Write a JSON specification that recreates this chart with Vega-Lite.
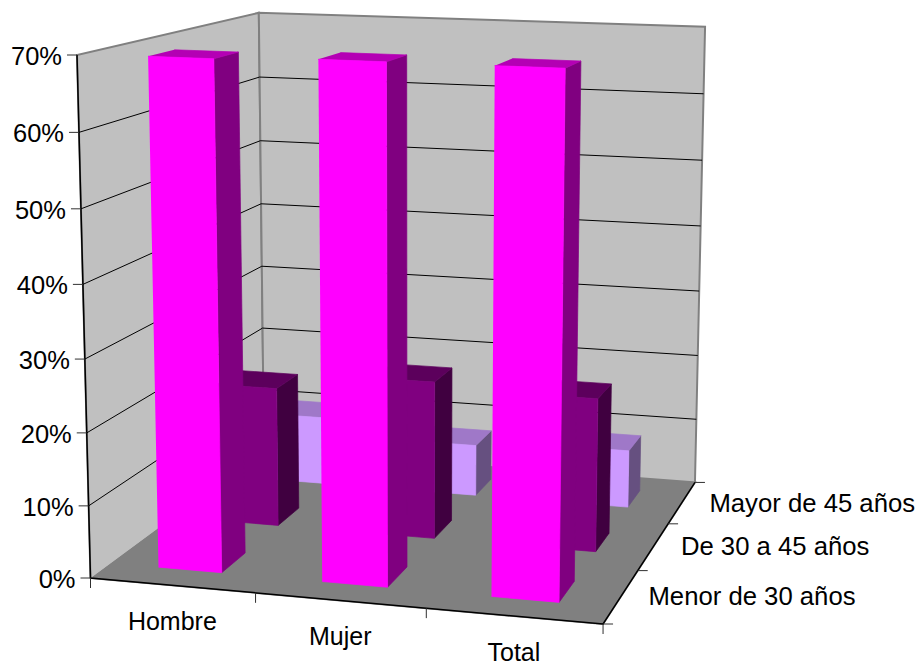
{"$schema":"https://vega.github.io/schema/vega-lite/v6.json","width":918,"height":662,"padding":0,"autosize":{"type":"none"},"background":"white","config":{"view":{"stroke":null}},
"resolve":{"scale":{"fill":"independent","stroke":"independent"}},
"datasets":{
"bars":[
{"series":"Mayor de 45 años","category":"Hombre","value":10.3},{"series":"Mayor de 45 años","category":"Mujer","value":7.7},{"series":"Mayor de 45 años","category":"Total","value":8.6},
{"series":"De 30 a 45 años","category":"Hombre","value":20.2},{"series":"De 30 a 45 años","category":"Mujer","value":22.7},{"series":"De 30 a 45 años","category":"Total","value":21.9},
{"series":"Menor de 30 años","category":"Hombre","value":69.4},{"series":"Menor de 30 años","category":"Mujer","value":69.8},{"series":"Menor de 30 años","category":"Total","value":69.8}],
"ticks":[{"tick":0},{"tick":10},{"tick":20},{"tick":30},{"tick":40},{"tick":50},{"tick":60},{"tick":70}],
"cats":[{"category":"Hombre"},{"category":"Mujer"},{"category":"Total"}],
"series":[{"series":"Menor de 30 años"},{"series":"De 30 a 45 años"},{"series":"Mayor de 45 años"}],
"bounds":[{"k":0},{"k":1},{"k":2},{"k":3}],
"panes":[{"pane":"left"},{"pane":"back"},{"pane":"floor"}]
},
"encoding":{"x":{"field":"px","type":"quantitative","scale":{"domain":[0,918],"nice":false,"zero":false},"axis":null},"y":{"field":"py","type":"quantitative","scale":{"domain":[0,662],"reverse":true,"nice":false,"zero":false},"axis":null}},
"layer":[
{"data":{"name":"panes"},"transform":[
{"calculate":"[0,1,2,3]","as":"n"},{"flatten":["n"]},
{"calculate":"({left:[0,0,0,0],back:[0,0,1,1],floor:[0,1,1,0]})[datum.pane][datum.n]","as":"u"},
{"calculate":"({left:[0,1,1,0],back:[0,1,1,0],floor:[0,0,0,0]})[datum.pane][datum.n]","as":"v"},
{"calculate":"({left:[0,0,1,1],back:[1,1,1,1],floor:[0,0,1,1]})[datum.pane][datum.n]","as":"w"},
{"calculate":"(90.5+datum.u*482.4-datum.v*16.58+datum.w*226.3)/(1-0.05*datum.u-0.04*datum.v+0.2*datum.w)","as":"px"},
{"calculate":"(578+datum.u*14.8-datum.v*525.2-datum.w*38)/(1-0.05*datum.u-0.04*datum.v+0.2*datum.w)","as":"py"}],
"mark":{"type":"line","strokeWidth":2,"strokeJoin":"miter"},
"encoding":{"order":{"field":"n"},"detail":{"field":"pane"},
"fill":{"field":"pane","type":"nominal","scale":{"domain":["left","back","floor"],"range":["#C0C0C0","#C0C0C0","#808080"]},"legend":null},
"stroke":{"value":"#808080"}}},
{"data":{"name":"ticks"},"transform":[{"filter":"datum.tick>=10&&datum.tick<=60"},
{"calculate":"[0,1,2]","as":"n"},{"flatten":["n"]},
{"calculate":"[0,0,1][datum.n]","as":"u"},{"calculate":"datum.tick/70","as":"v"},{"calculate":"[0,1,1][datum.n]","as":"w"},
{"calculate":"(90.5+datum.u*482.4-datum.v*16.58+datum.w*226.3)/(1-0.05*datum.u-0.04*datum.v+0.2*datum.w)","as":"px"},
{"calculate":"(578+datum.u*14.8-datum.v*525.2-datum.w*38)/(1-0.05*datum.u-0.04*datum.v+0.2*datum.w)","as":"py"}],
"mark":{"type":"line","stroke":"#000000","strokeWidth":1},
"encoding":{"order":{"field":"n"},"detail":{"field":"tick"}}},
{"data":{"name":"bounds"},"transform":[{"calculate":"[0,1,2,3]","as":"n"},{"flatten":["n"]},{"filter":"datum.k==0"},
{"calculate":"[0,0,1,1][datum.n]","as":"u"},{"calculate":"[1,0,0,0][datum.n]","as":"v"},{"calculate":"[0,0,0,1][datum.n]","as":"w"},
{"calculate":"(90.5+datum.u*482.4-datum.v*16.58+datum.w*226.3)/(1-0.05*datum.u-0.04*datum.v+0.2*datum.w)","as":"px"},
{"calculate":"(578+datum.u*14.8-datum.v*525.2-datum.w*38)/(1-0.05*datum.u-0.04*datum.v+0.2*datum.w)","as":"py"}],
"mark":{"type":"line","stroke":"#000000","strokeWidth":1.5},
"encoding":{"order":{"field":"n"}}},
{"data":{"name":"ticks"},"transform":[
{"calculate":"datum.tick/70","as":"v"},
{"calculate":"(90.5-datum.v*16.58)/(1-0.04*datum.v)","as":"px"},
{"calculate":"(578-datum.v*525.2)/(1-0.04*datum.v)","as":"py"},
{"calculate":"datum.px-10","as":"px0"}],
"mark":{"type":"rule","stroke":"#303030","strokeWidth":1},
"encoding":{"x2":{"field":"px0"}}},
{"data":{"name":"bounds"},"transform":[
{"calculate":"datum.k/3","as":"u"},
{"calculate":"(90.5+datum.u*482.4)/(1-0.05*datum.u)","as":"px"},
{"calculate":"(578+datum.u*14.8)/(1-0.05*datum.u)","as":"py"},
{"calculate":"datum.py+10","as":"py1"}],
"mark":{"type":"rule","stroke":"#303030","strokeWidth":1},
"encoding":{"y2":{"field":"py1"}}},
{"data":{"name":"bounds"},"transform":[
{"calculate":"datum.k/3","as":"w"},
{"calculate":"(90.5+482.4+datum.w*226.3)/(0.95+0.2*datum.w)","as":"px"},
{"calculate":"(578+14.8-datum.w*38)/(0.95+0.2*datum.w)","as":"py"},
{"calculate":"datum.px+10","as":"px1"}],
"mark":{"type":"rule","stroke":"#303030","strokeWidth":1},
"encoding":{"x2":{"field":"px1"}}},
{"data":{"name":"bars"},"transform":[
{"calculate":"indexof(['Hombre','Mujer','Total'],datum.category)","as":"i"},
{"calculate":"indexof(['Menor de 30 años','De 30 a 45 años','Mayor de 45 años'],datum.series)","as":"j"},
{"calculate":"['side','top','front']","as":"face"},{"flatten":["face"]},
{"calculate":"[0,1,2,3]","as":"n"},{"flatten":["n"]},
{"calculate":"datum.series+'|'+datum.category+'|'+datum.face","as":"poly"},
{"calculate":"datum.series+'|'+datum.face","as":"tone"},
{"calculate":"(datum.i+0.297+0.39*({front:[0,1,1,0],side:[1,1,1,1],top:[0,1,1,0]})[datum.face][datum.n])/3","as":"u"},
{"calculate":"datum.value/70*({front:[0,0,1,1],side:[0,0,1,1],top:[1,1,1,1]})[datum.face][datum.n]","as":"v"},
{"calculate":"(datum.j+0.3+0.4*({front:[0,0,0,0],side:[0,1,1,0],top:[0,0,1,1]})[datum.face][datum.n])/3","as":"w"},
{"calculate":"(90.5+datum.u*482.4-datum.v*16.58+datum.w*226.3)/(1-0.05*datum.u-0.04*datum.v+0.2*datum.w)","as":"px"},
{"calculate":"(578+datum.u*14.8-datum.v*525.2-datum.w*38)/(1-0.05*datum.u-0.04*datum.v+0.2*datum.w)","as":"py"}],
"mark":{"type":"line","strokeWidth":0.7,"strokeJoin":"miter"},
"encoding":{"order":{"field":"n"},"detail":{"field":"poly"},
"fill":{"field":"tone","type":"nominal","legend":null,"scale":{"domain":["Menor de 30 años|front","Menor de 30 años|side","Menor de 30 años|top","De 30 a 45 años|front","De 30 a 45 años|side","De 30 a 45 años|top","Mayor de 45 años|front","Mayor de 45 años|side","Mayor de 45 años|top"],"range":["#FF00FF","#800080","#B400B4","#800080","#400040","#5C005C","#CC99FF","#665080","#9F78C8"]}},
"stroke":{"field":"tone","type":"nominal","legend":null,"scale":{"domain":["Menor de 30 años|front","Menor de 30 años|side","Menor de 30 años|top","De 30 a 45 años|front","De 30 a 45 años|side","De 30 a 45 años|top","Mayor de 45 años|front","Mayor de 45 años|side","Mayor de 45 años|top"],"range":["#FF00FF","#800080","#B400B4","#800080","#400040","#5C005C","#CC99FF","#665080","#9F78C8"]}}}},
{"data":{"name":"ticks"},"transform":[
{"calculate":"datum.tick+'%'","as":"label"},{"calculate":"datum.tick/70","as":"v"},
{"calculate":"(90.5-datum.v*16.58)/(1-0.04*datum.v)","as":"px"},
{"calculate":"(578-datum.v*525.2)/(1-0.04*datum.v)","as":"py"}],
"mark":{"type":"text","font":"Liberation Sans","fontSize":25.5,"align":"right","baseline":"middle","dx":-15,"dy":2,"fill":"#000000"},
"encoding":{"text":{"field":"label"}}},
{"data":{"name":"cats"},"transform":[
{"calculate":"(indexof(['Hombre','Mujer','Total'],datum.category)+0.5)/3","as":"u"},
{"calculate":"(90.5+datum.u*482.4)/(1-0.05*datum.u)","as":"px"},
{"calculate":"(578+datum.u*14.8)/(1-0.05*datum.u)","as":"py"}],
"mark":{"type":"text","font":"Liberation Sans","fontSize":25,"align":"center","baseline":"middle","dy":36.5,"fill":"#000000"},
"encoding":{"text":{"field":"category"}}},
{"data":{"name":"series"},"transform":[
{"calculate":"(indexof(['Menor de 30 años','De 30 a 45 años','Mayor de 45 años'],datum.series)+0.5)/3","as":"w"},
{"calculate":"(90.5+482.4+datum.w*226.3)/(0.95+0.2*datum.w)","as":"px"},
{"calculate":"(578+14.8-datum.w*38)/(0.95+0.2*datum.w)","as":"py"}],
"mark":{"type":"text","font":"Liberation Sans","fontSize":25.7,"align":"left","baseline":"middle","dx":27.5,"dy":1,"fill":"#000000"},
"encoding":{"text":{"field":"series"}}}
]}
